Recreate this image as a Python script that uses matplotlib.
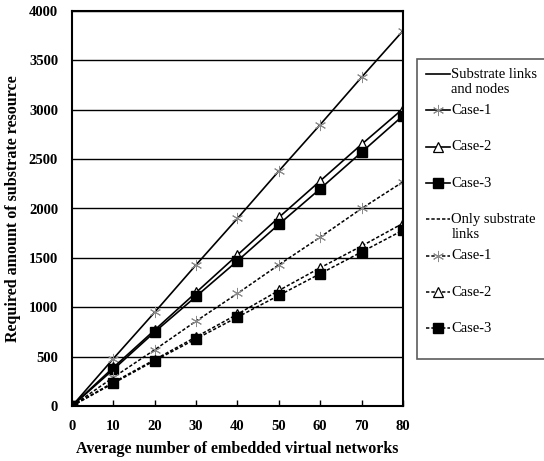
import matplotlib
matplotlib.use("Agg")
import matplotlib.pyplot as plt
from matplotlib.lines import Line2D

plt.rcParams["font.family"] = ["Liberation Serif", "DejaVu Serif"]

# Average number of embedded virtual networks
networks = [0, 10, 20, 30, 40, 50, 60, 70, 80]

# Substrate links and nodes
links_nodes_case1 = [0, 480, 950, 1430, 1900, 2380, 2850, 3330, 3800]
links_nodes_case2 = [0, 390, 770, 1150, 1530, 1910, 2280, 2650, 3010]
links_nodes_case3 = [0, 370, 750, 1110, 1470, 1840, 2200, 2570, 2940]

# Only substrate links
links_case1 = [0, 290, 570, 860, 1140, 1430, 1710, 2000, 2270]
links_case2 = [0, 240, 470, 700, 930, 1170, 1400, 1620, 1850]
links_case3 = [0, 230, 460, 680, 900, 1120, 1340, 1560, 1780]

x_ticks = [0, 10, 20, 30, 40, 50, 60, 70, 80]
y_ticks = [0, 500, 1000, 1500, 2000, 2500, 3000, 3500, 4000]

legend_labels = ["Substrate links\nand nodes", "Case-1", "Case-2", "Case-3",
                 "Only substrate\nlinks", "Case-1", "Case-2", "Case-3"]

fig = plt.figure(figsize=(5.44, 4.61), dpi=100)
ax = fig.add_axes([72 / 544, 1 - 406 / 461, 331 / 544, 395 / 461])

asterisk = (6, 2, 0)
dash = (0, (2.2, 1.3))

star_kw = dict(marker=asterisk, markersize=8, markeredgecolor="#8a8a8a",
               markeredgewidth=0.7)
tri_kw = dict(marker="^", markersize=7, markerfacecolor="white",
              markeredgecolor="black", markeredgewidth=0.9)
sq_kw = dict(marker="s", markersize=7, markerfacecolor="black",
             markeredgecolor="black")

ax.plot(networks, links_nodes_case1, color="black", lw=1.2, **star_kw)
ax.plot(networks, links_nodes_case2, color="black", lw=1.2, **tri_kw)
ax.plot(networks, links_nodes_case3, color="black", lw=1.2, **sq_kw)
ax.plot(networks, links_case1, color="black", lw=1.1, linestyle=dash, **star_kw)
ax.plot(networks, links_case2, color="black", lw=1.1, linestyle=dash, **tri_kw)
ax.plot(networks, links_case3, color="black", lw=1.1, linestyle=dash, **sq_kw)

ax.set_xlim(0, 80)
ax.set_ylim(0, 4000)
ax.set_xticks(x_ticks)
ax.set_yticks(y_ticks)
ax.grid(axis="y", color="black", lw=1.0)
ax.set_axisbelow(True)
for s in ax.spines.values():
    s.set_linewidth(1.5)
ax.tick_params(axis="x", direction="in", length=4, width=1, pad=10)
ax.tick_params(axis="y", length=0, pad=10)
for lab in ax.get_xticklabels() + ax.get_yticklabels():
    lab.set_fontweight("bold")
    lab.set_fontsize(10.5)

ax.set_xlabel("Average number of embedded virtual networks",
              fontsize=11.5, fontweight="bold", labelpad=6)
ax.set_ylabel("Required amount of substrate resource",
              fontsize=11.5, fontweight="bold", labelpad=6)

handles = [
    Line2D([], [], color="black", lw=1.2),
    Line2D([], [], color="black", lw=1.2, **star_kw),
    Line2D([], [], color="black", lw=1.2, **tri_kw),
    Line2D([], [], color="black", lw=1.2, **sq_kw),
    Line2D([], [], color="black", lw=1.1, linestyle=dash),
    Line2D([], [], color="black", lw=1.1, linestyle=dash, **star_kw),
    Line2D([], [], color="black", lw=1.1, linestyle=dash, **tri_kw),
    Line2D([], [], color="black", lw=1.1, linestyle=dash, **sq_kw),
]
# every entry takes two text lines so the rows are evenly spaced
labels = [t if "\n" in t else t + "\n " for t in legend_labels]
leg = fig.legend(handles, labels, loc="upper left",
                 bbox_to_anchor=(417 / 544, 1 - 59 / 461),
                 frameon=True, fancybox=False, edgecolor="#333333",
                 fontsize=10.5, handlelength=1.65, handleheight=1.2,
                 handletextpad=0.1, labelspacing=0.57, borderpad=0.6,
                 borderaxespad=0)
leg.get_frame().set_linewidth(1.2)
# keep each handle level with the first line of its label
for column in leg._legend_handle_box.get_children():
    for row in column.get_children():
        row.align = "top"

fig.savefig("out.png", dpi=100)
